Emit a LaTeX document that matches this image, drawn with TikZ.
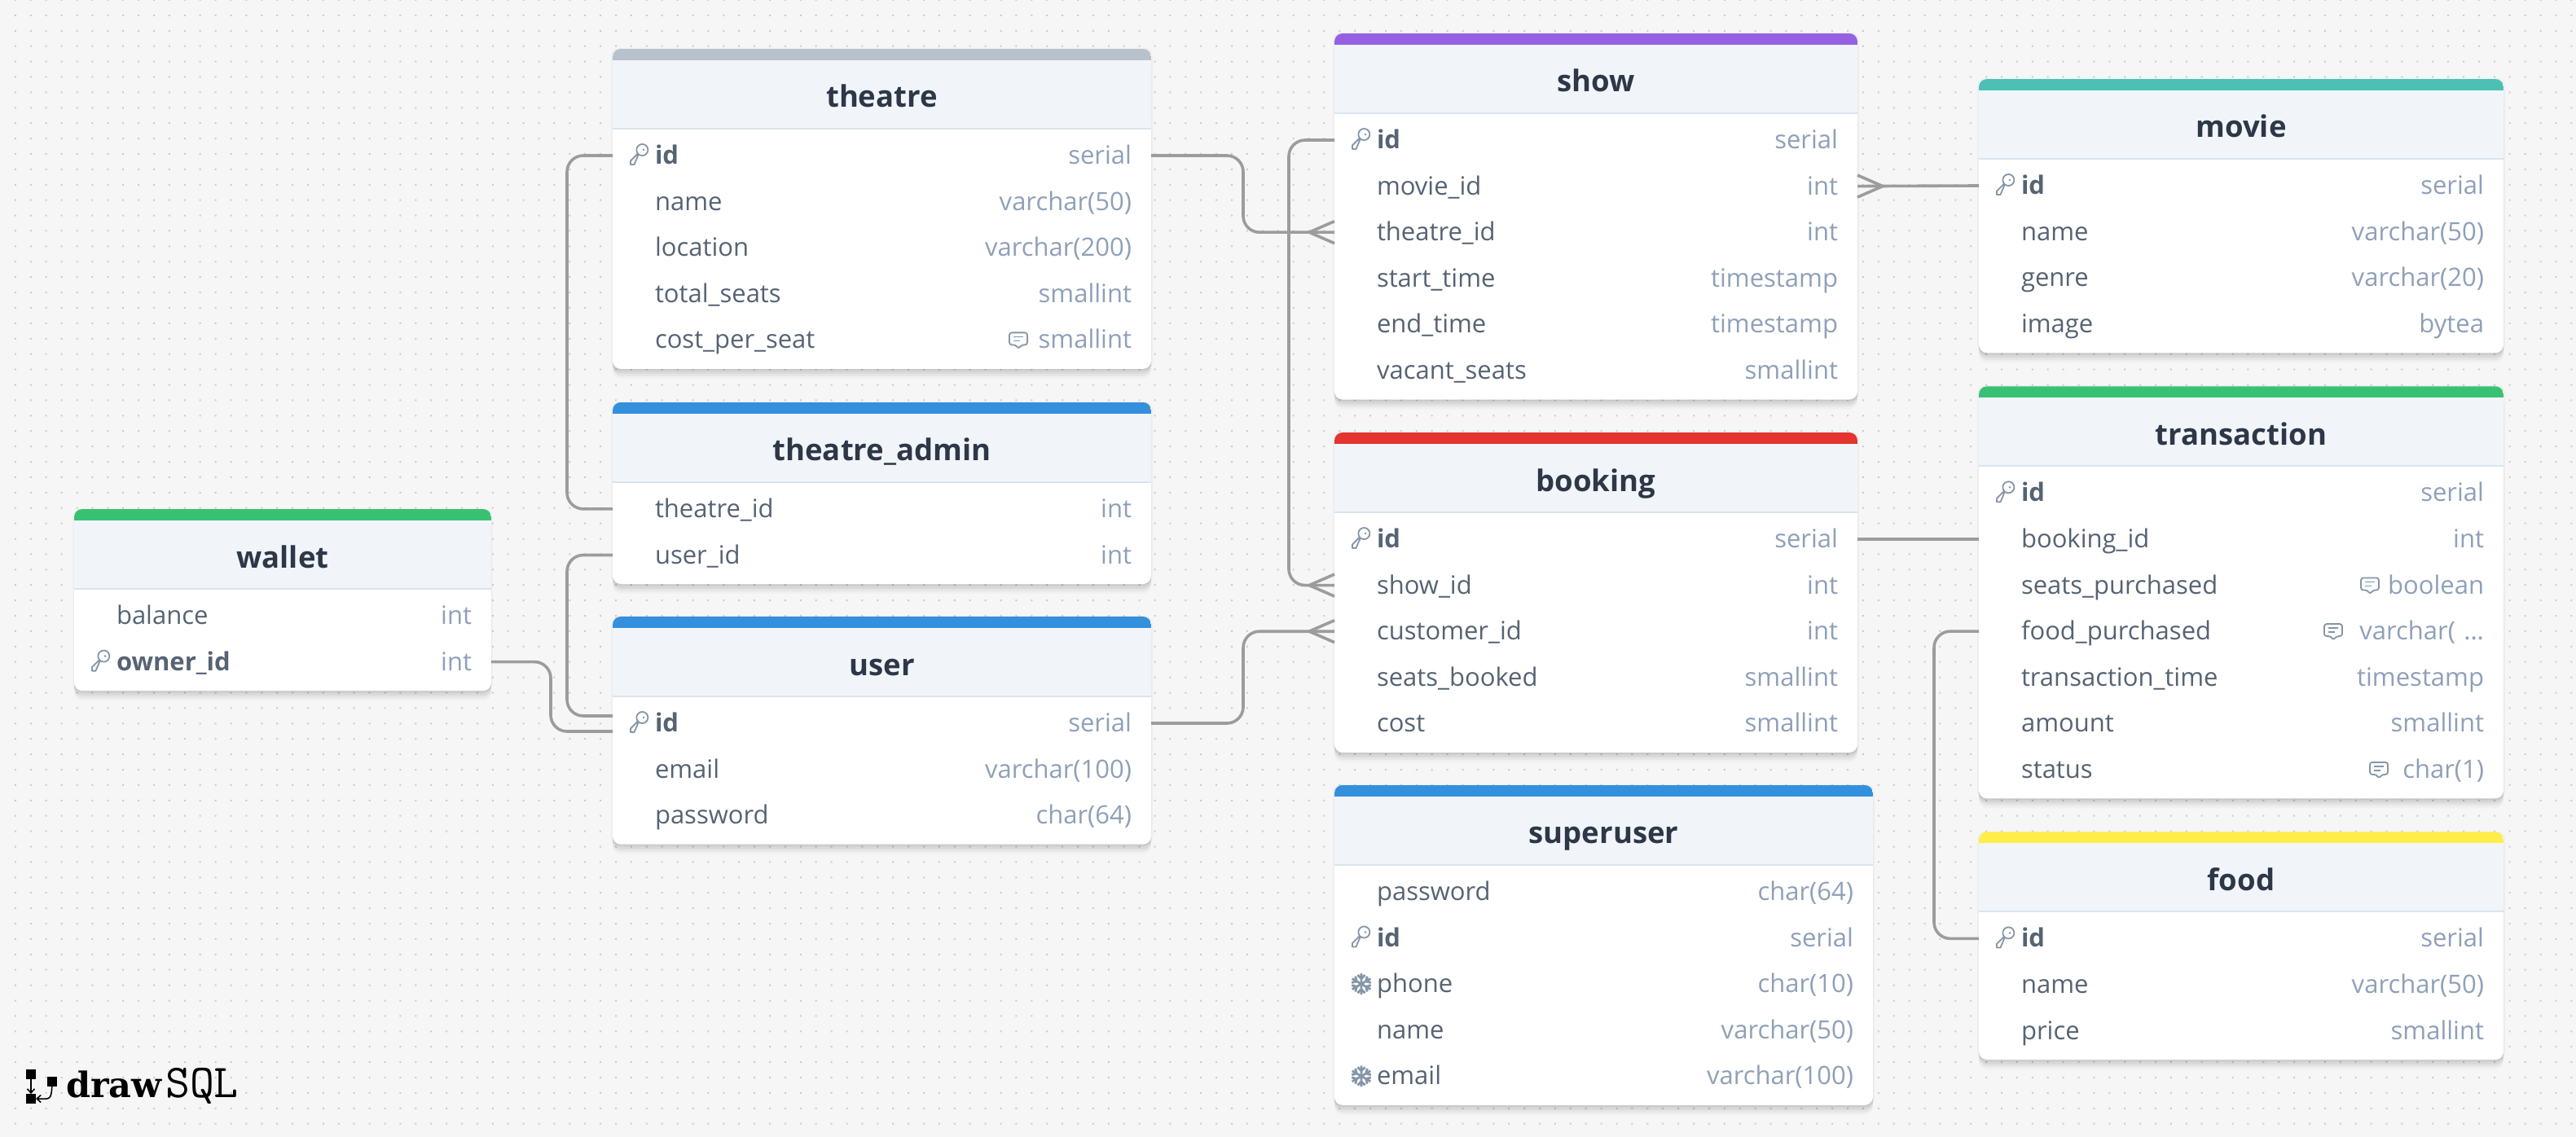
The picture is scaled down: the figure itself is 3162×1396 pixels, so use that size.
\documentclass[tikz,border=0pt]{standalone}
\usepackage{fontspec}
\usepackage{xcolor}
\setmainfont{Open Sans}
\usetikzlibrary{arrows.meta,positioning,shadows}
\definecolor{boardbg}{HTML}{F6F6F6}
\definecolor{dotgray}{HTML}{CCCCCC}
\definecolor{headbg}{HTML}{F1F5F9}
\definecolor{headline}{HTML}{DAE4EE}
\definecolor{headtext}{HTML}{2D3748}
\definecolor{nametext}{HTML}{566373}
\definecolor{typetext}{HTML}{8FA0B8}
\definecolor{icongray}{HTML}{8596A8}
\definecolor{linkgray}{HTML}{9C9C9C}
\definecolor{slateband}{HTML}{B8C2CC}
\definecolor{blueband}{HTML}{3490DC}
\definecolor{purpleband}{HTML}{9561E2}
\definecolor{tealband}{HTML}{4DC0B5}
\definecolor{greenband}{HTML}{38C172}
\definecolor{redband}{HTML}{E3342F}
\definecolor{yellowband}{HTML}{FFED4A}
\newcommand{\rowtext}[2]{\hspace*{52pt}#1\hfill{\color{typetext}#2}\hspace*{24pt}}
\newcommand{\idtext}[1]{\textbf{#1}}

\begin{document}
\begin{tikzpicture}[
  x=1pt, y=1pt,
  tablecard/.style n args={3}{rectangle, rounded corners=10pt, fill=white, minimum width=#2pt, minimum height=109.9pt+56.6pt*#3, inner sep=0pt, outer sep=0pt,
    general shadow={shadow yshift=0pt, shadow scale=1.006, fill=black, opacity=.03},
    general shadow={shadow yshift=-3pt, fill=black, opacity=.05},
    general shadow={shadow yshift=-6pt, fill=black, opacity=.05},
    general shadow={shadow yshift=-9pt, fill=black, opacity=.04},
    general shadow={shadow yshift=-12pt, fill=black, opacity=.025},
    path picture={
      \fill[#1, sharp corners] (path picture bounding box.north west) rectangle ([yshift=-14pt]path picture bounding box.north east);
      \fill[headbg, sharp corners] ([yshift=-14pt]path picture bounding box.north west) rectangle ([yshift=-98pt]path picture bounding box.north east);
      \draw[headline, line width=2pt, sharp corners] ([yshift=-98pt]path picture bounding box.north west) -- ([yshift=-98pt]path picture bounding box.north east);
    }},
  tablehead/.style={minimum width=#1pt, minimum height=84pt, inner sep=0pt, outer sep=0pt, text height=32pt, text depth=0pt, font=\fontsize{36.5}{43}\selectfont\bfseries, text=headtext},
  fieldrow/.style={text width=#1pt, minimum height=56.6pt, inner xsep=0pt, inner ysep=0pt, outer sep=0pt, text height=22.5pt, text depth=1.5pt, font=\fontsize{31}{37}\selectfont, text=nametext},
  link/.style={draw=linkgray, line width=3.6pt, rounded corners=20pt},
  keyicon/.pic={
    \draw[icongray, line width=1.8pt, line join=round] (-11,-11) -- (-11,-6.5) -- (-2,2.5) arc[start angle=220, end angle=-130, radius=7] -- (-6.5,-11) -- cycle;
    \fill[icongray] (5,7) circle[radius=1.4];
  },
  noteicon/.pic={
    \draw[icongray, line width=1.8pt, line join=round, rounded corners=3pt] (-11,9) -- (11,9) -- (11,-6) -- (4,-6) -- (0,-11) -- (-3,-6) -- (-11,-6) -- cycle;
    \draw[icongray, line width=1.6pt] (-6,4) -- (6,4) (-6,-1) -- (2,-1);
  },
  flakeicon/.pic={
    \foreach \spoke in {30,90,150,210,270,330}{
      \draw[icongray, line width=2.8pt, rotate=\spoke] (0,0) -- (13,0) (6.5,0) -- (11,4.5) (6.5,0) -- (11,-4.5);
    }
  },
  crowfoot/.pic={
    \draw[linkgray, line width=3.6pt, line join=round] (0,13.5) -- (-31,0) -- (0,-13.5);
  },
  logosquare/.style={fill=black, minimum size=12pt, inner sep=0pt, outer sep=0pt},
  logoarrow/.style={line width=1.6pt, -{Straight Barb[length=5pt,width=9pt]}}
]
\useasboundingbox (0,0) rectangle (3162,-1396);
\fill[boardbg] (0,0) rectangle (3162,-1396);
% dotted board
\foreach \dotrow in {0,...,73}{
  \fill[dotgray] \foreach \dotcol in {1,...,167}{ (\dotcol*18.9-1,-\dotrow*18.9-1) rectangle ++(2,2) };
}

% wallet
\node[tablecard={greenband}{512}{2}, anchor=north west] (wallet) at (91,-625) {};
\node[tablehead=512, below=14pt of wallet.north] (wallet-head) {wallet};
\node[fieldrow=512, below=4.7pt of wallet-head] (wallet-balance) {\rowtext{balance}{int}};
\node[fieldrow=512, below=0pt of wallet-balance] (wallet-owner) {\rowtext{\idtext{owner\_id}}{int}};

% theatre
\node[tablecard={slateband}{661}{5}, anchor=north west] (theatre) at (752,-60) {};
\node[tablehead=661, below=14pt of theatre.north] (theatre-head) {theatre};
\node[fieldrow=661, below=4.7pt of theatre-head] (theatre-id) {\rowtext{\idtext{id}}{serial}};
\node[fieldrow=661, below=0pt of theatre-id] (theatre-name) {\rowtext{name}{varchar(50)}};
\node[fieldrow=661, below=0pt of theatre-name] (theatre-location) {\rowtext{location}{varchar(200)}};
\node[fieldrow=661, below=0pt of theatre-location] (theatre-seats) {\rowtext{total\_seats}{smallint}};
\node[fieldrow=661, below=0pt of theatre-seats] (theatre-cost) {\rowtext{cost\_per\_seat}{smallint}};

% theatre_admin
\node[tablecard={blueband}{661}{2}, below=41pt of theatre] (admin) {};
\node[tablehead=661, below=14pt of admin.north] (admin-head) {theatre\_admin};
\node[fieldrow=661, below=4.7pt of admin-head] (admin-theatre) {\rowtext{theatre\_id}{int}};
\node[fieldrow=661, below=0pt of admin-theatre] (admin-user) {\rowtext{user\_id}{int}};

% user
\node[tablecard={blueband}{661}{3}, below=40pt of admin] (user) {};
\node[tablehead=661, below=14pt of user.north] (user-head) {user};
\node[fieldrow=661, below=4.7pt of user-head] (user-id) {\rowtext{\idtext{id}}{serial}};
\node[fieldrow=661, below=0pt of user-id] (user-email) {\rowtext{email}{varchar(100)}};
\node[fieldrow=661, below=0pt of user-email] (user-password) {\rowtext{password}{char(64)}};

% show
\node[tablecard={purpleband}{642}{6}, anchor=north west] (show) at (1638,-41) {};
\node[tablehead=642, below=14pt of show.north] (show-head) {show};
\node[fieldrow=642, below=4.7pt of show-head] (show-id) {\rowtext{\idtext{id}}{serial}};
\node[fieldrow=642, below=0pt of show-id] (show-movie) {\rowtext{movie\_id}{int}};
\node[fieldrow=642, below=0pt of show-movie] (show-theatre) {\rowtext{theatre\_id}{int}};
\node[fieldrow=642, below=0pt of show-theatre] (show-start) {\rowtext{start\_time}{timestamp}};
\node[fieldrow=642, below=0pt of show-start] (show-end) {\rowtext{end\_time}{timestamp}};
\node[fieldrow=642, below=0pt of show-end] (show-vacant) {\rowtext{vacant\_seats}{smallint}};

% booking
\node[tablecard={redband}{642}{5}, below=40.5pt of show] (booking) {};
\node[tablehead=642, below=14pt of booking.north] (booking-head) {booking};
\node[fieldrow=642, below=4.7pt of booking-head] (booking-id) {\rowtext{\idtext{id}}{serial}};
\node[fieldrow=642, below=0pt of booking-id] (booking-show) {\rowtext{show\_id}{int}};
\node[fieldrow=642, below=0pt of booking-show] (booking-customer) {\rowtext{customer\_id}{int}};
\node[fieldrow=642, below=0pt of booking-customer] (booking-seats) {\rowtext{seats\_booked}{smallint}};
\node[fieldrow=642, below=0pt of booking-seats] (booking-cost) {\rowtext{cost}{smallint}};

% superuser
\node[tablecard={blueband}{661}{5}, below=40pt of booking.south west, anchor=north west] (superuser) {};
\node[tablehead=661, below=14pt of superuser.north] (superuser-head) {superuser};
\node[fieldrow=661, below=4.7pt of superuser-head] (superuser-password) {\rowtext{password}{char(64)}};
\node[fieldrow=661, below=0pt of superuser-password] (superuser-id) {\rowtext{\idtext{id}}{serial}};
\node[fieldrow=661, below=0pt of superuser-id] (superuser-phone) {\rowtext{phone}{char(10)}};
\node[fieldrow=661, below=0pt of superuser-phone] (superuser-name) {\rowtext{name}{varchar(50)}};
\node[fieldrow=661, below=0pt of superuser-name] (superuser-email) {\rowtext{email}{varchar(100)}};

% movie
\node[tablecard={tealband}{644}{4}, anchor=north west] (movie) at (2429,-97) {};
\node[tablehead=644, below=14pt of movie.north] (movie-head) {movie};
\node[fieldrow=644, below=4.7pt of movie-head] (movie-id) {\rowtext{\idtext{id}}{serial}};
\node[fieldrow=644, below=0pt of movie-id] (movie-name) {\rowtext{name}{varchar(50)}};
\node[fieldrow=644, below=0pt of movie-name] (movie-genre) {\rowtext{genre}{varchar(20)}};
\node[fieldrow=644, below=0pt of movie-genre] (movie-image) {\rowtext{image}{bytea}};

% transaction
\node[tablecard={greenband}{644}{7}, below=41pt of movie] (transaction) {};
\node[tablehead=644, below=14pt of transaction.north] (transaction-head) {transaction};
\node[fieldrow=644, below=4.7pt of transaction-head] (transaction-id) {\rowtext{\idtext{id}}{serial}};
\node[fieldrow=644, below=0pt of transaction-id] (transaction-booking) {\rowtext{booking\_id}{int}};
\node[fieldrow=644, below=0pt of transaction-booking] (transaction-seats) {\rowtext{seats\_purchased}{boolean}};
\node[fieldrow=644, below=0pt of transaction-seats] (transaction-food) {\rowtext{food\_purchased}{varchar( ...}};
\node[fieldrow=644, below=0pt of transaction-food] (transaction-time) {\rowtext{transaction\_time}{timestamp}};
\node[fieldrow=644, below=0pt of transaction-time] (transaction-amount) {\rowtext{amount}{smallint}};
\node[fieldrow=644, below=0pt of transaction-amount] (transaction-status) {\rowtext{status}{char(1)}};

% food
\node[tablecard={yellowband}{644}{3}, below=41pt of transaction] (food) {};
\node[tablehead=644, below=14pt of food.north] (food-head) {food};
\node[fieldrow=644, below=4.7pt of food-head] (food-id) {\rowtext{\idtext{id}}{serial}};
\node[fieldrow=644, below=0pt of food-id] (food-name) {\rowtext{name}{varchar(50)}};
\node[fieldrow=644, below=0pt of food-name] (food-price) {\rowtext{price}{smallint}};

% icons
\pic at ([xshift=33pt]wallet-owner.west) {keyicon};
\pic at ([xshift=33pt]theatre-id.west) {keyicon};
\pic at ([xshift=33pt]user-id.west) {keyicon};
\pic at ([xshift=33pt]show-id.west) {keyicon};
\pic at ([xshift=33pt]booking-id.west) {keyicon};
\pic at ([xshift=33pt]superuser-id.west) {keyicon};
\pic at ([xshift=33pt]movie-id.west) {keyicon};
\pic at ([xshift=33pt]transaction-id.west) {keyicon};
\pic at ([xshift=33pt]food-id.west) {keyicon};
\pic at ([xshift=33pt]superuser-phone.west) {flakeicon};
\pic at ([xshift=33pt]superuser-email.west) {flakeicon};
\pic at ([xshift=-163pt]theatre-cost.east) {noteicon};
\pic at ([xshift=-164pt]transaction-seats.east) {noteicon};
\pic at ([xshift=-209pt]transaction-food.east) {noteicon};
\pic at ([xshift=-153pt]transaction-status.east) {noteicon};

% connectors
\draw[link] (theatre-id.west) -- ++(-56,0) |- (admin-theatre.west);
\draw[link] (admin-user.west) -- ++(-56,0) |- ([yshift=9pt]user-id.west);
\draw[link] (wallet-owner.east) -- ++(73,0) |- ([yshift=-10pt]user-id.west);
\draw[link] (user-id.east) -- ++(113,0) |- (booking-customer.west);
\pic at (booking-customer.west) {crowfoot};
\draw[link] (theatre-id.east) -- ++(113,0) |- (show-theatre.west);
\pic at (show-theatre.west) {crowfoot};
\draw[link] (show-id.west) -- ++(-56,0) |- (booking-show.west);
\pic at (booking-show.west) {crowfoot};
\draw[link] (movie-id.west) -- (show-movie.east);
\pic[xscale=-1] at (show-movie.east) {crowfoot};
\draw[link] (booking-id.east) -- (booking-id.east -| transaction-booking.west);
\draw[link] (transaction-food.west) -- ++(-55,0) |- (food-id.west);

% logo
\node[logosquare, anchor=north west] (logo-top) at (32,-1313) {};
\node[logosquare, anchor=north west] (logo-low) at (32,-1343) {};
\node[logosquare, anchor=north west] (logo-right) at (58,-1322) {};
\draw[logoarrow] (logo-top) -- (logo-low);
\draw[logoarrow] (logo-right) .. controls (63,-1352) and (60,-1349) .. (logo-low);
\node[anchor=base west, inner sep=0pt, font=\fontspec{DejaVu Serif}\fontsize{43}{48}\selectfont\bfseries] (logo-draw) at (81,-1347) {draw};
\node[anchor=base west, inner sep=0pt, font=\ttfamily\fontsize{58}{64}\selectfont] (logo-sql) at (203,-1347) {SQL};
\end{tikzpicture}
\end{document}
